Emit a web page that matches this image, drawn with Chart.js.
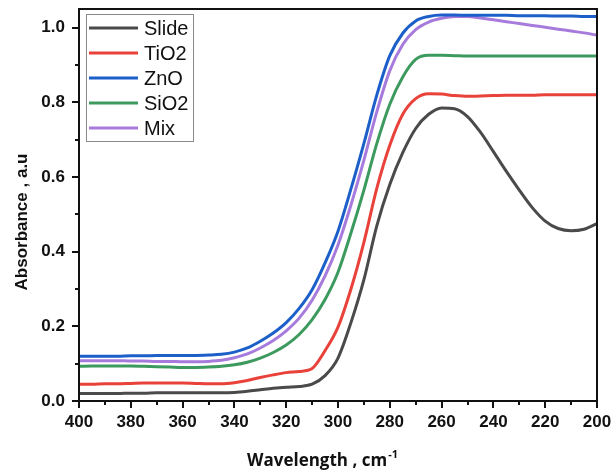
<!DOCTYPE html>
<html>
<head>
<meta charset="utf-8">
<script src="https://cdn.jsdelivr.net/npm/chart.js@4"></script>
<style>
  html, body { margin: 0; padding: 0; background: #fff; }
  #wrap { width: 611px; height: 472px; }
</style>
</head>
<body>
<div id="wrap"><canvas id="chart" width="611" height="472"></canvas></div>
<script>
const wavelengths = [400, 395, 390, 385, 380, 375, 370, 365, 360, 355, 350, 345, 340, 335, 330, 325, 320, 315, 310, 305, 300,
  295, 290, 285, 280, 275, 270, 265, 260, 255, 250, 245, 240, 235, 230, 225, 220, 215, 210, 205, 200];

const slide = [0.020, 0.020, 0.020, 0.020, 0.021, 0.021, 0.022, 0.022, 0.022, 0.022, 0.022, 0.022,
  0.023, 0.026, 0.030, 0.034, 0.037, 0.039, 0.045, 0.068, 0.115, 0.210, 0.325, 0.470, 0.580, 0.665, 0.730,
  0.768, 0.785, 0.783, 0.762, 0.720, 0.668, 0.615, 0.565, 0.518, 0.482, 0.462, 0.456, 0.460, 0.475];
const tio2 = [0.045, 0.045, 0.046, 0.046, 0.047, 0.048, 0.048, 0.048, 0.048, 0.047, 0.046, 0.046,
  0.049, 0.055, 0.063, 0.070, 0.076, 0.079, 0.087, 0.135, 0.198, 0.300, 0.425, 0.570, 0.685, 0.768, 0.810,
  0.823, 0.822, 0.818, 0.816, 0.817, 0.818, 0.819, 0.819, 0.819, 0.820, 0.820, 0.820, 0.820, 0.820];
const zno = [0.120, 0.120, 0.120, 0.120, 0.121, 0.121, 0.122, 0.122, 0.122, 0.122, 0.123, 0.125,
  0.131, 0.142, 0.160, 0.182, 0.210, 0.248, 0.298, 0.370, 0.455, 0.568, 0.690, 0.820, 0.925, 0.985, 1.018,
  1.030, 1.034, 1.034, 1.033, 1.033, 1.033, 1.033, 1.032, 1.032, 1.032, 1.031, 1.031, 1.030, 1.030];
const sio2 = [0.093, 0.094, 0.094, 0.094, 0.094, 0.093, 0.092, 0.091, 0.090, 0.090, 0.091, 0.093,
  0.097, 0.104, 0.115, 0.130, 0.150, 0.178, 0.218, 0.272, 0.345, 0.450, 0.565, 0.690, 0.795, 0.868, 0.915,
  0.926, 0.926, 0.925, 0.924, 0.924, 0.924, 0.924, 0.924, 0.924, 0.924, 0.924, 0.924, 0.924, 0.924];
const mix = [0.108, 0.108, 0.108, 0.108, 0.107, 0.107, 0.106, 0.106, 0.105, 0.105, 0.106, 0.109,
  0.116, 0.126, 0.142, 0.162, 0.188, 0.222, 0.270, 0.335, 0.418, 0.525, 0.645, 0.775, 0.885, 0.955, 0.995,
  1.015, 1.025, 1.030, 1.030, 1.026, 1.021, 1.016, 1.011, 1.006, 1.001, 0.996, 0.991, 0.986, 0.980];

const seriesNames = ['Slide', 'TiO2', 'ZnO', 'SiO2', 'Mix'];
const seriesColors = ['#4a4a4a', '#e8423a', '#1c5fc9', '#3d9a5e', '#a77bdc'];
const seriesValues = [slide, tio2, zno, sio2, mix];

const FONT = "'Liberation Sans', Arial, sans-serif";

// frame, tick marks, legend box and axis titles
const framePlugin = {
  id: 'frame',
  afterDraw: chart => {
    const { ctx, chartArea: a, scales: { x, y } } = chart;
    ctx.save();
    ctx.strokeStyle = '#111';
    ctx.lineWidth = 2;
    ctx.strokeRect(a.left, a.top, a.right - a.left, a.bottom - a.top);

    ctx.lineWidth = 2;
    ctx.beginPath();
    for (let w = 200; w <= 400; w += 10) {
      const px = Math.round(x.getPixelForValue(w));
      const len = w % 20 === 0 ? 7 : 4;
      ctx.moveTo(px, a.bottom);
      ctx.lineTo(px, a.bottom + len);
    }
    for (let i = 0; i <= 10; i++) {
      const py = Math.round(y.getPixelForValue(i / 10));
      const len = i % 2 === 0 ? 7 : 4;
      ctx.moveTo(a.left, py);
      ctx.lineTo(a.left - len, py);
    }
    ctx.stroke();

    // legend
    ctx.lineWidth = 1;
    ctx.strokeStyle = '#8a8a8a';
    ctx.strokeRect(86.5, 14.5, 107, 127);
    ctx.font = `20px ${FONT}`;
    ctx.textBaseline = 'middle';
    ctx.fillStyle = '#111';
    chart.data.datasets.forEach((ds, i) => {
      const ly = 28 + i * 25;
      ctx.strokeStyle = ds.borderColor;
      ctx.lineWidth = 3;
      ctx.beginPath();
      ctx.moveTo(89, ly);
      ctx.lineTo(138, ly);
      ctx.stroke();
      ctx.fillText(ds.label, 144, ly + 1);
    });

    // axis titles
    ctx.fillStyle = '#111';
    ctx.textAlign = 'center';
    ctx.font = `bold 17px ${FONT}`;
    ctx.save();
    ctx.translate(22, 222);
    ctx.rotate(-Math.PI / 2);
    ctx.fillText('Absorbance , a.u', 0, 0);
    ctx.restore();

    ctx.font = "bold 17px 'Open Sans', sans-serif";
    const main = 'Wavelength , cm';
    const sup = '-1';
    const mw = ctx.measureText(main).width;
    ctx.font = "bold 11px 'Open Sans', sans-serif";
    const sw = ctx.measureText(sup).width;
    const startX = 322 - (mw + sw) / 2;
    ctx.textAlign = 'left';
    ctx.font = "bold 17px 'Open Sans', sans-serif";
    ctx.fillText(main, startX, 461);
    ctx.font = "bold 11px 'Open Sans', sans-serif";
    ctx.fillText(sup, startX + mw + 1, 455);
    ctx.restore();
  },
};

const ctx = document.getElementById('chart');
new Chart(ctx, {
  type: 'line',
  data: {
    datasets: seriesNames.map((name, i) => ({
      label: name,
      data: wavelengths.map((w, j) => ({ x: w, y: seriesValues[i][j] })),
      borderColor: seriesColors[i],
      borderWidth: 3,
      pointRadius: 0,
      cubicInterpolationMode: 'monotone',
      fill: false,
    })),
  },
  options: {
    responsive: false,
    animation: false,
    layout: { padding: 0 },
    scales: {
      x: {
        type: 'linear',
        reverse: true,
        min: 200,
        max: 400,
        afterFit: s => {
          s.height = 71;
          s.paddingLeft = 0;
          s.paddingRight = 14;
        },
        grid: { display: false, drawTicks: false },
        border: { display: false },
        ticks: {
          stepSize: 20,
          padding: 11,
          color: '#111',
          font: { family: FONT, size: 17, weight: 'bold' },
          maxRotation: 0,
        },
      },
      y: {
        min: 0,
        max: 1.05,
        afterFit: s => {
          s.width = 79;
          s.paddingTop = 9;
          s.paddingBottom = 0;
        },
        grid: { display: false, drawTicks: false },
        border: { display: false },
        ticks: {
          stepSize: 0.2,
          includeBounds: false,
          padding: 14,
          color: '#111',
          font: { family: FONT, size: 17, weight: 'bold' },
          callback: v => v.toFixed(1),
        },
      },
    },
    plugins: {
      legend: { display: false },
      tooltip: { enabled: false },
    },
  },
  plugins: [framePlugin],
});
</script>
</body>
</html>
